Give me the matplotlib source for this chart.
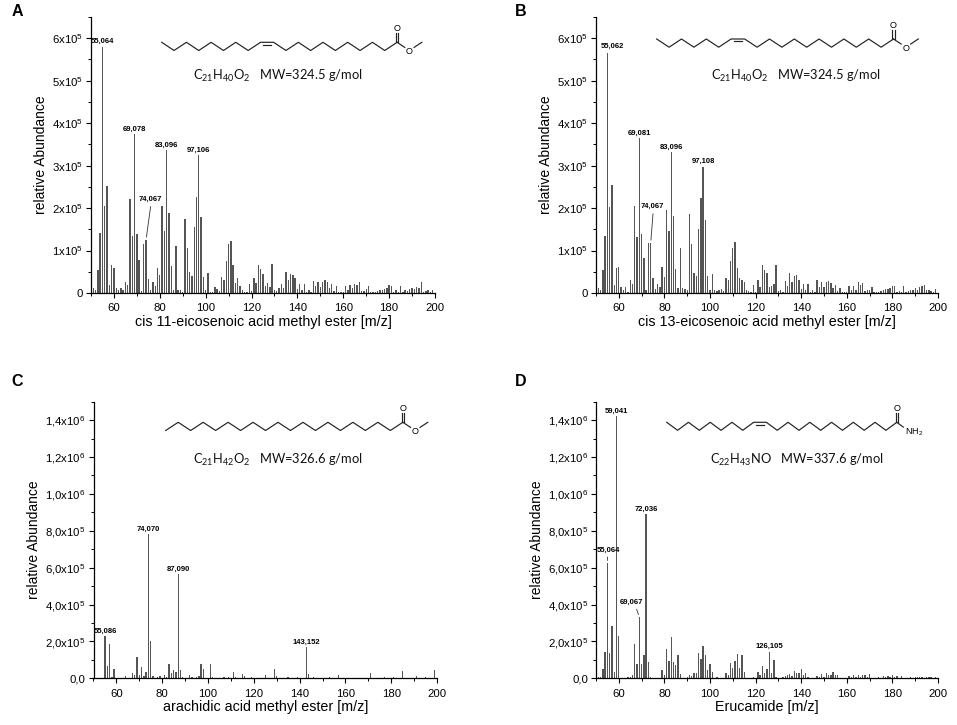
import numpy as np
import matplotlib
matplotlib.use("Agg")
import matplotlib.pyplot as plt
from matplotlib.lines import Line2D
from matplotlib.ticker import MultipleLocator

plt.rcParams['font.family'] = ['Liberation Sans', 'DejaVu Sans']
plt.rcParams['mathtext.default'] = 'regular'

# ---- spectra (abundance in units of 1e5) ----
mz_a = np.arange(51, 200)
ab_a = np.array([
    0.12, 0.08, 0.53, 1.41, 5.8, 2.05, 2.52, 0.2, 0.65, 0.6,
    0.11, 0.08, 0.11, 0.06, 0.27, 0.18, 2.22, 1.35, 3.74, 1.39,
    0.78, 0.05, 1.15, 1.25, 0.33, 0.06, 0.25, 0.17, 0.6, 0.43,
    2.04, 1.47, 3.36, 1.88, 0.63, 0.08, 1.11, 0.08, 0.06, 0.03,
    1.74, 1.06, 0.5, 0.4, 1.55, 2.26, 3.24, 1.8, 0.38, 0.08,
    0.47, 0.03, 0.02, 0.13, 0.1, 0.04, 0.37, 0.3, 0.76, 1.15,
    1.23, 0.65, 0.24, 0.35, 0.17, 0.08, 0.03, 0.02, 0.22, 0.04,
    0.35, 0.23, 0.67, 0.56, 0.45, 0.16, 0.24, 0.14, 0.68, 0.08,
    0.05, 0.11, 0.21, 0.12, 0.49, 0.31, 0.44, 0.43, 0.35, 0.09,
    0.21, 0.06, 0.22, 0.03, 0.06, 0.02, 0.29, 0.16, 0.25, 0.14,
    0.26, 0.31, 0.25, 0.11, 0.21, 0.05, 0.16, 0.02, 0.03, 0.03,
    0.16, 0.06, 0.18, 0.11, 0.22, 0.2, 0.26, 0.05, 0.05, 0.09,
    0.16, 0.03, 0.02, 0.02, 0.05, 0.08, 0.08, 0.09, 0.11, 0.18,
    0.17, 0.03, 0.08, 0.03, 0.16, 0.03, 0.08, 0.04, 0.09, 0.11,
    0.09, 0.14, 0.11, 0.25, 0.03, 0.05, 0.08, 0.03, 0.08]) * 1e5

mz_b = np.arange(51, 200)
ab_b = np.array([
    0.12, 0.08, 0.53, 1.35, 5.65, 2.02, 2.55, 0.18, 0.58, 0.62,
    0.14, 0.08, 0.14, 0.03, 0.31, 0.22, 2.04, 1.32, 3.64, 1.4,
    0.83, 0.06, 1.18, 1.18, 0.35, 0.09, 0.21, 0.14, 0.61, 0.37,
    1.95, 1.45, 3.31, 1.82, 0.57, 0.11, 1.06, 0.11, 0.09, 0.06,
    1.85, 1.16, 0.47, 0.41, 1.5, 2.23, 2.97, 1.73, 0.39, 0.08,
    0.45, 0.06, 0.04, 0.08, 0.09, 0.05, 0.35, 0.31, 0.75, 1.06,
    1.2, 0.59, 0.35, 0.31, 0.25, 0.08, 0.04, 0.03, 0.19, 0.03,
    0.31, 0.14, 0.65, 0.54, 0.46, 0.14, 0.17, 0.22, 0.67, 0.04,
    0.08, 0.03, 0.29, 0.17, 0.46, 0.25, 0.39, 0.42, 0.31, 0.09,
    0.21, 0.06, 0.21, 0.03, 0.06, 0.03, 0.31, 0.14, 0.25, 0.14,
    0.25, 0.29, 0.24, 0.11, 0.2, 0.05, 0.12, 0.03, 0.02, 0.03,
    0.17, 0.08, 0.16, 0.08, 0.25, 0.2, 0.24, 0.05, 0.06, 0.08,
    0.14, 0.03, 0.02, 0.03, 0.05, 0.08, 0.09, 0.09, 0.11, 0.17,
    0.16, 0.03, 0.05, 0.03, 0.17, 0.03, 0.04, 0.06, 0.06, 0.11,
    0.08, 0.14, 0.16, 0.2, 0.06, 0.06, 0.05, 0.03, 0.09]) * 1e5

mz_c = np.array([51, 53, 55, 56, 57, 58, 59, 60, 64, 67, 68, 69, 70, 71, 72, 73,
                 74, 75, 76, 78, 79, 81, 82, 83, 84, 85, 86, 87, 88, 89, 92, 93,
                 95, 96, 97, 98, 101, 102, 104, 107, 109, 111, 112, 115, 116, 119,
                 121, 125, 129, 130, 135, 139, 141, 143, 144, 146, 147, 149, 153,
                 155, 157, 161, 167, 171, 177, 179, 181, 183, 185, 191, 193, 195, 199])
ab_c = np.array([0.03, 0.04, 2.27, 0.64, 1.87, 0.05, 0.49, 0.03, 0.13, 0.27, 0.16,
                 1.13, 0.2, 0.6, 0.1, 0.36, 7.8, 2.04, 0.15, 0.08, 0.12, 0.2, 0.08,
                 0.78, 0.27, 0.45, 0.36, 5.65, 0.45, 0.08, 0.16, 0.08, 0.08, 0.12,
                 0.76, 0.49, 0.76, 0.08, 0.04, 0.05, 0.08, 0.33, 0.08, 0.24, 0.12,
                 0.05, 0.04, 0.16, 0.51, 0.12, 0.05, 0.06, 0.04, 1.69, 0.24, 0.08,
                 0.04, 0.03, 0.06, 0.04, 0.16, 0.03, 0.04, 0.27, 0.05, 0.04, 0.06,
                 0.04, 0.42, 0.12, 0.04, 0.05, 0.45]) * 1e5

mz_d = np.array([51, 52, 53, 54, 55, 56, 57, 58, 59, 60, 61, 63, 64, 65, 66, 67, 68,
                 69, 70, 71, 72, 73, 74, 77, 79, 80, 81, 82, 83, 84, 85, 86, 87, 89,
                 90, 91, 92, 93, 94, 95, 96, 97, 98, 99, 100, 101, 103, 105, 107,
                 108, 109, 110, 111, 112, 113, 114, 115, 117, 119, 121, 122, 123,
                 124, 125, 126, 127, 128, 129, 131, 132, 133, 134, 135, 136, 137,
                 138, 139, 140, 141, 142, 143, 145, 147, 148, 149, 150, 151, 152,
                 153, 154, 155, 156, 158, 161, 162, 163, 164, 165, 166, 167, 168,
                 169, 170, 172, 174, 176, 177, 178, 179, 180, 181, 182, 184, 186,
                 188, 190, 191, 192, 193, 195, 196, 197, 199])
ab_d = np.array([0.09, 0.06, 0.49, 1.42, 6.24, 1.36, 2.82, 0.36, 14.2, 2.31, 0.04,
                 0.03, 0.05, 0.09, 0.18, 1.87, 0.76, 3.31, 0.76, 1.27, 8.89, 0.87,
                 0.06, 0.04, 0.45, 0.18, 1.6, 0.95, 2.24, 0.9, 0.73, 1.27, 0.22,
                 0.04, 0.09, 0.16, 0.12, 0.27, 0.27, 1.36, 1.04, 1.73, 1.27, 0.45,
                 0.78, 0.33, 0.05, 0.04, 0.27, 0.18, 0.85, 0.55, 0.95, 1.33, 0.55,
                 1.24, 0.33, 0.04, 0.09, 0.35, 0.18, 0.64, 0.27, 0.49, 1.44, 0.31,
                 1.0, 0.05, 0.04, 0.09, 0.12, 0.16, 0.22, 0.13, 0.4, 0.31, 0.27,
                 0.49, 0.2, 0.31, 0.05, 0.04, 0.12, 0.06, 0.24, 0.09, 0.27, 0.2,
                 0.16, 0.36, 0.16, 0.2, 0.04, 0.12, 0.05, 0.16, 0.05, 0.16, 0.09,
                 0.18, 0.18, 0.09, 0.24, 0.04, 0.05, 0.12, 0.06, 0.12, 0.09, 0.18,
                 0.05, 0.12, 0.12, 0.04, 0.05, 0.08, 0.05, 0.08, 0.06, 0.08, 0.05,
                 0.08, 0.08]) * 1e5

xlabels = ["cis 11-eicosenoic acid methyl ester [m/z]",
           "cis 13-eicosenoic acid methyl ester [m/z]",
           "arachidic acid methyl ester [m/z]",
           "Erucamide [m/z]"]
ytick_ab = [0, 1e5, 2e5, 3e5, 4e5, 5e5, 6e5]
ytick_ab_labels = ["0"] + [r"%dx10$^{5}$" % i for i in range(1, 7)]
ytick_cd = [0, 2e5, 4e5, 6e5, 8e5, 1e6, 1.2e6, 1.4e6]
ytick_cd_labels = ["0,0", r"2,0x10$^{5}$", r"4,0x10$^{5}$", r"6,0x10$^{5}$",
                   r"8,0x10$^{5}$", r"1,0x10$^{6}$", r"1,2x10$^{6}$", r"1,4x10$^{6}$"]
formulas = [r"C$_{21}$H$_{40}$O$_{2}$   MW=324.5 g/mol",
            r"C$_{21}$H$_{40}$O$_{2}$   MW=324.5 g/mol",
            r"C$_{21}$H$_{42}$O$_{2}$   MW=326.6 g/mol",
            r"C$_{22}$H$_{43}$NO   MW=337.6 g/mol"]

W, H = 957, 725
fig = plt.figure(figsize=(W / 100, H / 100), dpi=100)


def px_axes(l, t, r, b):
    return fig.add_axes([l / W, 1 - b / H, (r - l) / W, (b - t) / H])


def style(ax, ymax, yt, ytl, yminor, xlabel):
    ax.set_xlim(50, 200)
    ax.set_ylim(0, ymax)
    for s in ("top", "right"):
        ax.spines[s].set_visible(False)
    for s in ("left", "bottom"):
        ax.spines[s].set_linewidth(0.9)
    ax.set_xticks(range(60, 201, 20))
    ax.xaxis.set_minor_locator(MultipleLocator(10))
    ax.set_yticks(yt)
    ax.set_yticklabels(ytl)
    ax.yaxis.set_minor_locator(MultipleLocator(yminor))
    ax.tick_params(which="major", direction="out", length=3.5, width=0.8, labelsize=8.2)
    ax.tick_params(axis="x", which="major", pad=4)
    ax.tick_params(axis="y", which="major", pad=2)
    ax.tick_params(which="minor", direction="out", length=2, width=0.7)
    ax.set_xlabel(xlabel, fontsize=10.3, labelpad=1)
    ax.set_ylabel("relative Abundance", fontsize=10, labelpad=3)


def bars(ax, mz, ab):
    ax.bar(mz, ab, width=0.6, color="#555555", linewidth=0)


def peak(ax, mz, ab, m, txt, dx=0.0, dy=1.2):
    h = ab[list(mz).index(m)]
    ax.annotate(txt, xy=(m, h), xytext=(dx, dy), textcoords="offset points",
                ha="center", va="bottom", fontsize=5.5, fontweight="bold")


def peak_lead(ax, mz, ab, m, txt, dx, dy, rx=0.5):
    h = ab[list(mz).index(m)]
    ax.annotate(txt, xy=(m, h), xytext=(dx, dy), textcoords="offset points",
                ha="center", va="bottom", fontsize=5.5, fontweight="bold",
                arrowprops=dict(arrowstyle="-", lw=0.6, color="#333333",
                                shrinkA=0.5, shrinkB=2, relpos=(rx, 0)))


def fline(xs, ys, lw=0.85):
    fig.add_artist(Line2D([x / W for x in xs], [1 - y / H for y in ys],
                          color="#222222", lw=lw, transform=fig.transFigure))


def ftext(x, y, s, **kw):
    fig.text(x / W, 1 - y / H, s, **kw)


def molecule(x0, ytop, step, amp, n1, n2, dbl, start_up, end):
    ybot = ytop + amp
    xs, ys = [x0], [ytop if start_up else ybot]
    up = start_up
    for _ in range(n1):
        up = not up
        xs.append(xs[-1] + step)
        ys.append(ytop if up else ybot)
    if dbl:
        xa = xs[-1]
        xs.append(xa + dbl)
        ys.append(ys[-1])
        fline([xa + 0.2 * dbl, xa + 0.8 * dbl], [ytop + 2.3, ytop + 2.3])
        for _ in range(n2):
            up = not up
            xs.append(xs[-1] + step)
            ys.append(ytop if up else ybot)
    fline(xs, ys)
    cx = xs[-1]
    # carbonyl
    fline([cx - 1.2, cx - 1.2], [ytop - 0.5, ytop - 9.5])
    fline([cx + 1.2, cx + 1.2], [ytop - 0.5, ytop - 9.5])
    ftext(cx, ytop - 14, "O", ha="center", va="center", fontsize=6.5)
    ox = cx + step
    if end == "ester":
        fline([cx, cx + 0.62 * step], [ytop, ytop + 0.62 * amp])
        ftext(ox, ybot + 1.5, "O", ha="center", va="center", fontsize=6.5)
        fline([ox + 0.38 * step, ox + step], [ybot - 0.38 * amp, ytop])
    else:
        fline([cx, cx + 0.6 * step], [ytop, ytop + 0.6 * amp])
        ftext(ox - 3, ybot + 2, r"NH$_{2}$", ha="left", va="center", fontsize=6.5)


# ---- panel A ----
axA = px_axes(91, 17, 435, 293)
bars(axA, mz_a, ab_a)
style(axA, 6.5e5, ytick_ab, ytick_ab_labels, 0.5e5, xlabels[0])
peak(axA, mz_a, ab_a, 55, "55,064", dx=0.3)
peak(axA, mz_a, ab_a, 69, "69,078")
peak(axA, mz_a, ab_a, 83, "83,096")
peak(axA, mz_a, ab_a, 97, "97,106")
peak_lead(axA, mz_a, ab_a, 74, "74,067", dx=2.8, dy=26.5, rx=0.55)

# ---- panel B ----
axB = px_axes(596, 17, 938, 293)
bars(axB, mz_b, ab_b)
style(axB, 6.5e5, ytick_ab, ytick_ab_labels, 0.5e5, xlabels[1])
peak(axB, mz_b, ab_b, 55, "55,062", dx=3.3, dy=2)
peak(axB, mz_b, ab_b, 69, "69,081")
peak(axB, mz_b, ab_b, 83, "83,096")
peak(axB, mz_b, ab_b, 97, "97,108")
peak_lead(axB, mz_b, ab_b, 74, "74,067", dx=1.0, dy=23.5, rx=0.55)

# ---- panel C ----
axC = px_axes(93.5, 401.7, 437, 678.3)
bars(axC, mz_c, ab_c)
style(axC, 1.5e6, ytick_cd, ytick_cd_labels, 1e5, xlabels[2])
peak(axC, mz_c, ab_c, 55, "55,086", dx=0.5)
peak(axC, mz_c, ab_c, 74, "74,070")
peak(axC, mz_c, ab_c, 87, "87,090")
peak(axC, mz_c, ab_c, 143, "143,152")

# ---- panel D ----
axD = px_axes(596, 401.7, 938, 678.3)
bars(axD, mz_d, ab_d)
style(axD, 1.5e6, ytick_cd, ytick_cd_labels, 1e5, xlabels[3])
peak(axD, mz_d, ab_d, 59, "59,041", dy=1.5)
peak(axD, mz_d, ab_d, 72, "72,036")
peak(axD, mz_d, ab_d, 126, "126,105")
peak_lead(axD, mz_d, ab_d, 55, "55,064", dx=1.0, dy=7.0, rx=0.45)
peak_lead(axD, mz_d, ab_d, 69, "69,067", dx=-5.8, dy=8.3, rx=0.68)

# ---- structures and formulas ----
molecule(161.7, 42.3, 12.35, 8.2, 8, 10, 13.1, True, "ester")
molecule(656.7, 39.0, 12.4, 8.2, 6, 12, 13.6, True, "ester")
molecule(165.7, 422.3, 12.48, 8.2, 19, 0, 0, False, "ester")
molecule(666.7, 422.3, 10.87, 8.0, 8, 12, 12.7, True, "amide")

for (fx, fy), s in zip([(278, 76), (796, 76), (278, 460), (797, 460)], formulas):
    ftext(fx, fy, s, ha="center", va="center", fontsize=9.3,
          family=["Lato", "DejaVu Sans"], color="#111111")

for (lx, ly), s in zip([(17, 12), (521, 12), (17, 381), (521, 381)], "ABCD"):
    ftext(lx, ly, s, ha="center", va="center", fontsize=11.5, fontweight="bold")

fig.savefig("out.png", dpi=100)
